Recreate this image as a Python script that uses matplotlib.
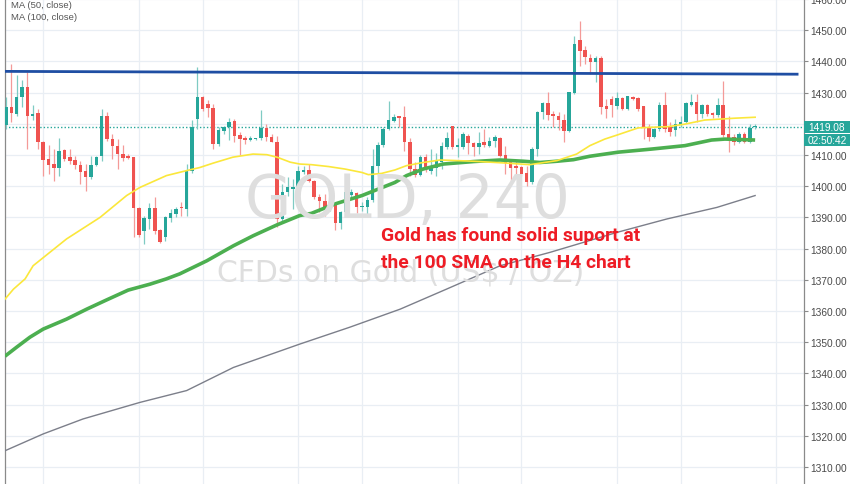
import matplotlib
matplotlib.use("Agg")
import matplotlib.pyplot as plt
from matplotlib.patches import Rectangle
import numpy as np

# ---------------- data (GOLD, 4H candles) ----------------
opens = [1419.7, 1425.5, 1423.1, 1428.7, 1431.7, 1422.6, 1423.5, 1414.1, 1408.7, 1407.1,
         1405.8, 1411.6, 1409.3, 1408.4, 1406.9, 1404.8, 1402.8, 1406.9, 1409.8, 1422.6,
         1415.1, 1413.0, 1410.3, 1409.8, 1409.5, 1393.0, 1385.8, 1389.6, 1393.0, 1386.0,
         1383.8, 1389.8, 1391.1, 1393.2, 1392.7, 1405.0, 1421.5, 1428.5, 1426.3, 1425.1,
         1413.5, 1417.8, 1418.9, 1420.8, 1416.4, 1415.4, 1414.9, 1415.0, 1415.4, 1418.7,
         1415.9, 1414.1, 1389.5, 1398.0, 1399.2, 1398.9, 1404.7, 1405.3, 1401.8, 1396.6,
         1395.1, 1393.2, 1394.3, 1388.1, 1391.6, 1397.3, 1397.7, 1393.2, 1393.2, 1395.6,
         1406.6, 1413.3, 1418.3, 1421.0, 1422.4, 1422.1, 1414.1, 1405.5, 1403.6, 1409.3,
         1405.0, 1405.8, 1407.6, 1412.5, 1419.2, 1412.5, 1412.5, 1416.2, 1413.8, 1412.5,
         1414.3, 1413.0, 1414.6, 1415.3, 1410.0, 1407.6, 1406.6, 1406.0, 1404.2, 1401.2,
         1411.9, 1423.9, 1426.7, 1423.1, 1422.6, 1421.3, 1417.8, 1429.9, 1447.0, 1443.8,
         1441.1, 1439.7, 1441.0, 1425.6, 1428.0, 1425.8, 1428.2, 1424.7, 1428.7, 1428.2,
         1425.6, 1419.1, 1415.7, 1418.3, 1426.0, 1418.9, 1418.1, 1419.7, 1420.7, 1426.0,
         1427.1, 1423.1, 1426.0, 1423.5, 1422.8, 1426.0, 1416.7, 1415.7, 1414.3, 1416.7,
         1414.3, 1418.9]
highs = [1428.7, 1439.2, 1435.6, 1434.1, 1436.5, 1426.1, 1424.8, 1414.6, 1413.3, 1411.9,
         1415.5, 1411.9, 1411.9, 1409.8, 1408.2, 1407.1, 1409.8, 1409.8, 1424.8, 1423.7,
         1416.7, 1415.1, 1413.3, 1410.3, 1409.5, 1393.2, 1390.6, 1394.5, 1396.4, 1386.3,
         1390.6, 1392.7, 1393.2, 1394.8, 1407.1, 1421.2, 1438.1, 1429.0, 1427.6, 1426.3,
         1418.9, 1419.4, 1421.9, 1421.5, 1417.3, 1416.2, 1416.0, 1415.4, 1424.4, 1419.9,
         1416.7, 1416.2, 1400.7, 1402.8, 1402.3, 1406.6, 1406.6, 1407.1, 1402.0, 1397.5,
         1397.5, 1396.4, 1394.8, 1392.2, 1399.6, 1399.1, 1398.0, 1394.8, 1396.4, 1411.9,
         1414.1, 1418.9, 1427.2, 1423.1, 1422.6, 1425.8, 1415.3, 1407.6, 1410.0, 1410.3,
         1411.9, 1410.6, 1414.1, 1417.5, 1419.4, 1415.3, 1417.3, 1416.7, 1414.3, 1417.3,
         1418.3, 1415.7, 1416.4, 1415.7, 1413.0, 1408.7, 1408.2, 1406.6, 1406.6, 1412.5,
         1424.2, 1427.1, 1430.1, 1424.2, 1423.7, 1423.1, 1430.3, 1448.2, 1453.1, 1445.0,
         1442.4, 1441.8, 1441.8, 1428.0, 1428.8, 1430.1, 1428.5, 1429.0, 1428.8, 1428.5,
         1425.8, 1419.9, 1418.5, 1427.1, 1430.3, 1420.5, 1421.5, 1422.6, 1426.9, 1429.6,
         1429.6, 1426.3, 1426.3, 1423.9, 1428.2, 1433.8, 1422.6, 1416.7, 1417.5, 1417.3,
         1420.0, 1419.9]
lows = [1418.3, 1420.5, 1422.5, 1425.3, 1411.9, 1421.2, 1411.9, 1403.4, 1403.9, 1401.8,
        1403.4, 1408.2, 1407.1, 1405.5, 1400.7, 1398.6, 1402.3, 1406.6, 1408.2, 1414.6,
        1408.7, 1405.5, 1408.2, 1408.7, 1383.8, 1383.8, 1381.5, 1386.3, 1384.7, 1381.7,
        1382.3, 1388.4, 1390.0, 1390.6, 1390.6, 1404.1, 1418.3, 1424.2, 1422.3, 1411.9,
        1413.0, 1416.7, 1414.8, 1414.1, 1410.1, 1413.5, 1414.5, 1414.8, 1414.8, 1414.6,
        1414.1, 1386.8, 1388.4, 1397.0, 1392.7, 1398.6, 1403.9, 1401.2, 1395.9, 1391.6,
        1390.6, 1392.2, 1386.0, 1386.3, 1390.2, 1396.2, 1391.3, 1392.2, 1390.0, 1394.8,
        1403.4, 1412.5, 1418.0, 1420.5, 1418.9, 1411.4, 1403.4, 1402.8, 1403.4, 1404.4,
        1403.9, 1403.4, 1405.5, 1411.9, 1411.9, 1409.3, 1411.9, 1410.3, 1409.8, 1410.3,
        1412.5, 1412.5, 1412.5, 1409.3, 1403.9, 1401.2, 1403.4, 1403.4, 1400.0, 1400.7,
        1409.8, 1421.5, 1421.3, 1418.9, 1418.1, 1414.3, 1417.5, 1429.6, 1438.6, 1439.2,
        1436.0, 1433.5, 1423.1, 1421.8, 1422.1, 1424.7, 1424.5, 1424.4, 1427.7, 1424.2,
        1415.1, 1414.6, 1415.3, 1417.8, 1417.3, 1416.2, 1416.2, 1418.9, 1420.3, 1425.6,
        1420.7, 1421.8, 1422.6, 1421.8, 1422.1, 1415.7, 1411.1, 1413.2, 1413.8, 1413.8,
        1413.8, 1418.3]
closes = [1425.5, 1423.4, 1428.7, 1431.7, 1422.6, 1423.3, 1414.1, 1408.5, 1406.9, 1405.8,
          1411.4, 1408.7, 1408.2, 1406.9, 1404.7, 1402.8, 1406.9, 1409.3, 1422.6, 1415.1,
          1413.0, 1410.3, 1409.0, 1409.0, 1393.0, 1384.2, 1389.8, 1393.0, 1385.8, 1382.0,
          1390.0, 1391.4, 1392.7, 1392.9, 1405.0, 1418.9, 1428.5, 1424.7, 1425.1, 1413.5,
          1418.0, 1418.9, 1420.5, 1416.2, 1415.1, 1414.8, 1415.3, 1415.2, 1418.7, 1415.9,
          1414.1, 1389.5, 1398.0, 1399.6, 1399.6, 1405.0, 1405.3, 1401.8, 1396.4, 1395.1,
          1393.2, 1394.5, 1388.1, 1391.6, 1398.3, 1398.3, 1393.2, 1393.8, 1395.6, 1406.6,
          1413.3, 1418.3, 1421.2, 1422.3, 1421.8, 1414.1, 1405.5, 1403.6, 1409.3, 1405.5,
          1406.0, 1408.0, 1413.0, 1415.3, 1412.5, 1413.2, 1416.7, 1413.7, 1412.5, 1413.8,
          1413.2, 1414.6, 1415.7, 1409.8, 1407.4, 1405.7, 1405.7, 1403.9, 1401.2, 1411.9,
          1423.9, 1426.7, 1422.8, 1422.4, 1421.3, 1417.8, 1430.1, 1445.6, 1443.4, 1441.3,
          1439.7, 1441.1, 1425.3, 1424.7, 1426.0, 1428.2, 1424.7, 1428.8, 1428.0, 1424.7,
          1418.9, 1415.7, 1418.3, 1426.0, 1418.3, 1417.3, 1419.9, 1420.7, 1426.7, 1426.9,
          1423.1, 1426.0, 1423.1, 1422.8, 1426.0, 1416.4, 1415.3, 1414.3, 1416.7, 1414.3,
          1418.5, 1419.08]

# moving averages (bar index, value)
ma50_idx = [-0.2, 1.4, 3.6, 5.1, 11.4, 17.7, 22.7, 25.2, 30.2, 34.0, 36.5, 39.0, 42.7,
            46.5, 49.1, 51.0, 53.5, 55.3, 57.5, 60.7, 63.8, 67.0, 68.2, 70.7, 73.2, 75.4,
            78.5, 81.7, 88.0, 94.2, 98.6, 103.7, 107.4, 109.9, 112.7, 115.2, 119.0, 124.7,
            127.8, 131.5, 137.2, 141.0]
ma50_val = [1363.8, 1367.0, 1370.3, 1374.5, 1383.1, 1390.0, 1397.0, 1399.6, 1403.4, 1405.0,
            1406.0, 1407.4, 1409.3, 1410.3, 1410.1, 1409.3, 1407.7, 1407.1, 1406.9, 1406.3,
            1405.5, 1404.4, 1403.7, 1404.1, 1405.2, 1406.6, 1407.6, 1408.4, 1408.0, 1407.4,
            1406.9, 1408.2, 1410.3, 1413.0, 1415.1, 1416.5, 1418.7, 1419.1, 1419.9, 1421.2,
            1421.8, 1422.1]
ma100_idx = [-0.2, 2.0, 4.5, 7.0, 11.4, 15.2, 19.0, 23.0, 27.1, 30.2, 32.7, 37.8, 42.8,
             46.5, 51.0, 55.3, 57.5, 61.9, 67.0, 70.1, 73.2, 75.4, 78.5, 82.3, 88.0, 93.0,
             97.4, 100.5, 103.7, 106.8, 109.9, 115.2, 121.5, 127.8, 132.8, 135.3, 141.0]
ma100_val = [1345.5, 1348.4, 1351.6, 1354.2, 1357.4, 1360.6, 1363.6, 1366.7, 1368.6, 1370.3,
             1371.9, 1376.1, 1380.9, 1384.1, 1387.6, 1390.6, 1391.3, 1394.3, 1397.0, 1399.1,
             1401.2, 1403.4, 1405.5, 1407.1, 1407.9, 1408.4, 1408.0, 1407.6, 1408.0, 1408.5,
             1409.6, 1410.9, 1411.9, 1413.0, 1414.8, 1415.1, 1414.8]
ma200_idx = [-0.2, 7.0, 14.5, 25.2, 34.0, 42.8, 55.3, 64.7, 74.2, 82.9, 93.0, 102.4,
             115.0, 124.4, 133.8, 141.0]
ma200_val = [1315.2, 1320.6, 1325.4, 1330.7, 1334.5, 1341.9, 1349.4, 1354.8, 1360.6,
             1367.0, 1374.5, 1378.8, 1385.2, 1389.5, 1393.2, 1397.0]

resist_idx = [-0.2, 148.9]
resist_val = [1436.8, 1435.9]

last_price = 1419.08
countdown = "02:50:42"
price_ticks = [1310, 1320, 1330, 1340, 1350, 1360, 1370, 1380, 1390, 1400,
               1410, 1420, 1430, 1440, 1450, 1460]
grid_idx = [7, 25, 37, 55, 67, 85, 97, 115, 127, 145]

legend_labels = ["MA (50, close)", "MA (100, close)"]
watermark1 = "GOLD, 240"
watermark2 = "CFDs on Gold (US$ / OZ)"
note_lines = ["Gold has found solid suport at", "the 100 SMA on the H4 chart"]

# ---------------- style ----------------
GREEN = "#26a69a"
RED = "#ef5350"
GRID = "#e9eef4"
W, H = 852, 485

fig = plt.figure(figsize=(W / 100, H / 100), dpi=100)
fig.patch.set_facecolor("white")
ax = fig.add_axes([5 / W, 0, 799 / W, 1])
ax.set_xlim(-0.19, 150.2)
ax.set_ylim(1304.55, 1460.0)

# grid
for p in price_ticks:
    ax.axhline(p, color=GRID, lw=0.9, zorder=0)
for g in grid_idx:
    ax.axvline(g, color=GRID, lw=0.9, zorder=0)

# watermark
def px(x, y):
    return x / W, 1 - y / H

fig.text(*px(245, 218), watermark1, fontsize=43, color="#dedede",
         family="DejaVu Sans", va="baseline", ha="left", zorder=0.5)
fig.text(*px(217, 282), watermark2, fontsize=21.5, color="#dedede",
         family="DejaVu Sans", va="baseline", ha="left", zorder=0.5)

# candles
o = np.array(opens); h = np.array(highs); l = np.array(lows); c = np.array(closes)
idx = np.arange(len(o))
up = c >= o
body_col = np.where(up, GREEN, RED)
wick_col = np.where(up, "#7fcbc3", "#f49a98")
ax.vlines(idx, l, h, colors=wick_col, lw=0.9, zorder=3)
ax.bar(idx, np.maximum(np.abs(c - o), 0.3), bottom=np.minimum(o, c), width=0.66,
       color=body_col, linewidth=0, zorder=4)

# MAs
ax.plot(ma200_idx, ma200_val, color="#7c7f8a", lw=1.0, zorder=5)
ax.plot(ma100_idx, ma100_val, color="#4caf50", lw=2.6, zorder=5, solid_capstyle="butt")
ax.plot(ma50_idx, ma50_val, color="#fbe73b", lw=1.2, zorder=6)

# resistance line
ax.plot(resist_idx, resist_val, color="#1f4ea3", lw=2.0, zorder=6)

# last price dotted line
ax.axhline(last_price, color=GREEN, lw=1.0, ls=(0, (1, 1.5)), zorder=2)

# axes styling
for s in ["top", "bottom"]:
    ax.spines[s].set_visible(False)
for s in ["left", "right"]:
    ax.spines[s].set_color("#8a8a8a")
    ax.spines[s].set_linewidth(0.9)
ax.set_xticks([])
ax.yaxis.tick_right()
shown = [t for t in price_ticks if abs(t - last_price) > 3]
ax.set_yticks(shown)
ax.set_yticklabels([f"{t:.2f}" for t in shown], family="Liberation Sans")
ax.tick_params(axis="y", labelsize=7.3, labelcolor="#4a4a4a", color="#8a8a8a",
               length=3, width=0.8, pad=1.5)

# price label boxes
fig.canvas.draw()
_, ypix = ax.transData.transform((0, last_price))
x0 = ax.transAxes.transform((1, 0))[0]
bw = 46
bh = 12
r1 = Rectangle((x0, ypix - bh / 2), bw, bh, transform=None, facecolor=GREEN,
               edgecolor="none", zorder=10)
r2 = Rectangle((x0, ypix - bh / 2 - 13.5), bw, bh, transform=None, facecolor=GREEN,
               edgecolor="none", zorder=10)
fig.add_artist(r1)
fig.add_artist(r2)
fig.text((x0 + bw / 2) / W, ypix / H, f"{last_price:.2f}", color="white", fontsize=7.3,
         family="Liberation Sans", ha="center", va="center", zorder=11)
fig.text((x0 + bw / 2) / W, (ypix - 13.5) / H, countdown, color="white", fontsize=7.3,
         family="Liberation Sans", ha="center", va="center", zorder=11)

# legend texts
fig.text(*px(11, 6), legend_labels[0], fontsize=6.8, color="#555555",
         family="Liberation Sans", va="center", ha="left")
fig.text(*px(11, 17), legend_labels[1], fontsize=6.8, color="#555555",
         family="Liberation Sans", va="center", ha="left")

# annotation
fig.text(*px(381, 241.5), note_lines[0], fontsize=13.9, color="#ee1c25",
         family="Roboto", weight="bold", va="baseline", ha="left", zorder=12)
fig.text(*px(381, 268), note_lines[1], fontsize=13.9, color="#ee1c25",
         family="Roboto", weight="bold", va="baseline", ha="left", zorder=12)

fig.savefig("out.png", dpi=100)
